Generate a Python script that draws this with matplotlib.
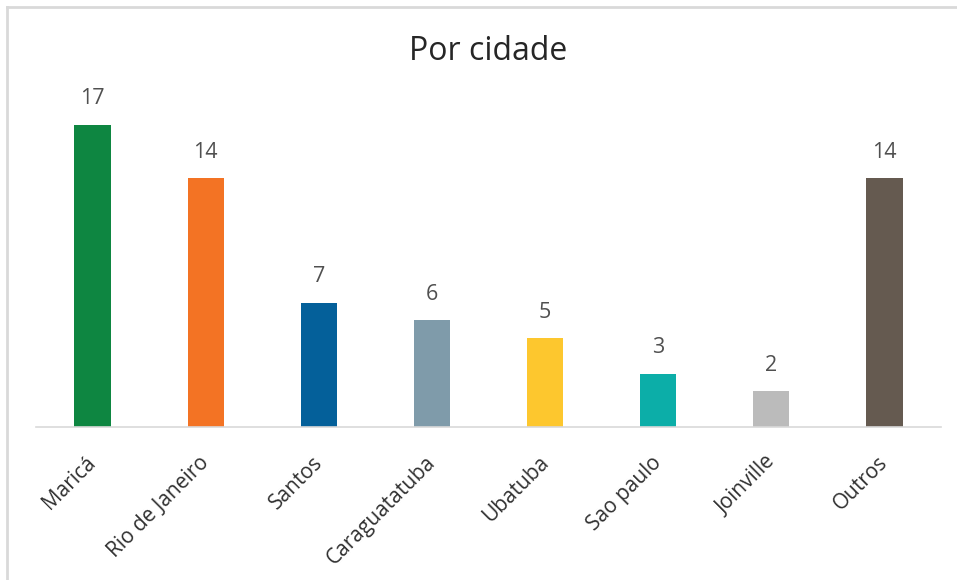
import matplotlib.pyplot as plt
from matplotlib.lines import Line2D
from matplotlib.transforms import ScaledTranslation

cities = ["Maricá", "Rio de Janeiro", "Santos", "Caraguatatuba", "Ubatuba",
          "Sao paulo", "Joinville", "Outros"]
counts = [17, 14, 7, 6, 5, 3, 2, 14]
colors = ["#0e8641", "#f37324", "#04609a", "#7f9baa", "#fdc72e",
          "#0caea8", "#bbbbbb", "#655a50"]

plt.rcParams['font.family'] = ['Open Sans', 'DejaVu Sans']

W, H = 957, 580
fig = plt.figure(figsize=(W / 100, H / 100), dpi=100)
ax = fig.add_axes([36 / W, 153 / H, (941 - 36) / W, (427 - 107) / H])

x = range(len(cities))
bars = ax.bar(x, counts, width=0.32, color=colors)
ax.set_xlim(-0.5, len(cities) - 0.5)
ax.set_ylim(0, 18)

for b, v in zip(bars, counts):
    ax.annotate(str(v), (b.get_x() + b.get_width() / 2, v), xytext=(0, 11),
                textcoords="offset points", ha="center", va="bottom",
                fontsize=15.5, color="#505050")

ax.set_xticks(list(x))
ax.set_xticklabels(cities, rotation=45, ha="right", va="top",
                   rotation_mode="anchor", fontsize=15, color="#303030")
ax.tick_params(axis="x", length=0, pad=18)
shift = ScaledTranslation(-7 / 100, 0, fig.dpi_scale_trans)
for lbl in ax.get_xticklabels():
    lbl.set_transform(lbl.get_transform() + shift)
ax.set_yticks([])
for s in ["top", "right", "left"]:
    ax.spines[s].set_visible(False)
ax.spines["bottom"].set_color("#d9d9d9")
ax.spines["bottom"].set_linewidth(1.2)

fig.text((36 + 941) / 2 / W, 1 - 52 / H, "Por cidade", ha="center", va="center",
         fontsize=23, color="#262626")

# outer frame (top and left edges only)
fig.add_artist(Line2D([7 / W, 1], [1 - 7 / H, 1 - 7 / H], color="#d9d9d9", lw=2))
fig.add_artist(Line2D([7 / W, 7 / W], [0, 1 - 7 / H], color="#d9d9d9", lw=2))

fig.savefig("out.png", dpi=100)
